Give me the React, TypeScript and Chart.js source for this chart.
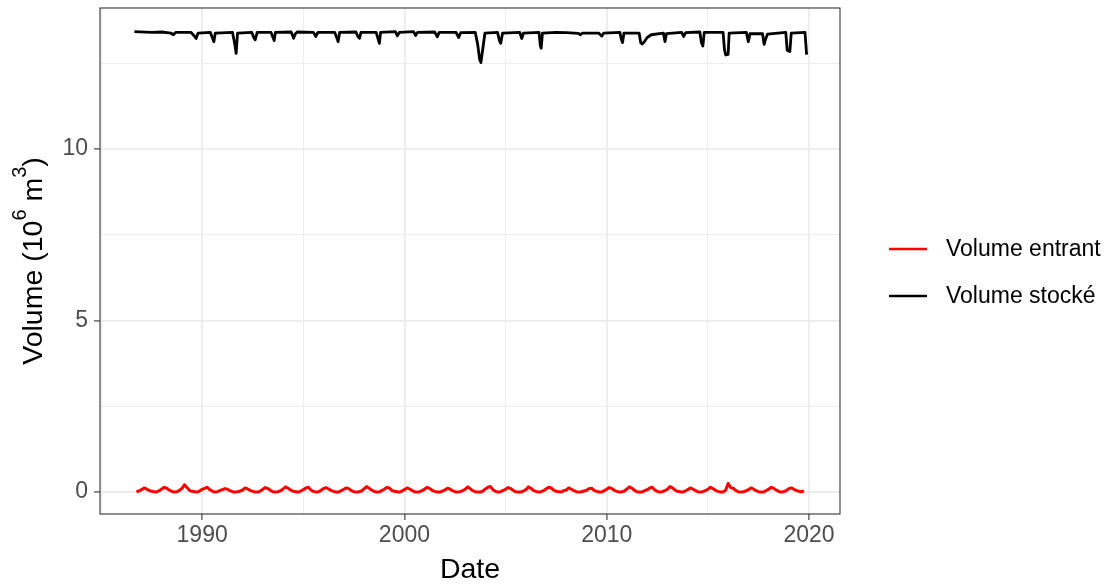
import { useEffect, useRef } from "react";
import { Chart, registerables } from "chart.js";

Chart.register(...registerables);

// ---- Data ----
const seriesLabels = ["Volume entrant", "Volume stocké"];
const seriesColors = ["#FF0000", "#000000"];

// Stored volume (10^6 m3): dates (decimal years) and values
const stockDates = [
  1986.65, 1987.5, 1988.0, 1988.45, 1988.58, 1988.7, 1989.45, 1989.6, 1989.7, 1989.8,
  1990.4, 1990.5, 1990.58, 1990.65, 1991.5, 1991.6, 1991.68, 1991.75, 1992.45, 1992.55,
  1992.62, 1992.72, 1993.4, 1993.5, 1993.56, 1993.62, 1994.4, 1994.52, 1994.6, 1994.7,
  1995.5, 1995.62, 1995.72, 1996.55, 1996.65, 1996.72, 1996.8, 1997.6, 1997.7, 1997.78,
  1997.85, 1998.6, 1998.7, 1998.76, 1998.82, 1999.55, 1999.65, 1999.75, 2000.45, 2000.55,
  2000.65, 2001.5, 2001.62, 2001.72, 2002.55, 2002.68, 2002.78, 2003.5, 2003.62, 2003.72,
  2003.78, 2003.88, 2003.98, 2004.6, 2004.7, 2004.76, 2004.85, 2005.7, 2005.8, 2005.88,
  2006.65, 2006.72, 2006.76, 2006.82, 2007.5, 2008.0, 2008.6, 2008.7, 2008.8, 2009.6,
  2009.75, 2009.85, 2010.65, 2010.72, 2010.78, 2010.85, 2011.6, 2011.68, 2011.75, 2011.85,
  2012.0, 2012.2, 2012.8, 2012.88, 2012.95, 2013.7, 2013.8, 2013.9, 2014.6, 2014.68,
  2014.75, 2014.82, 2015.75, 2015.82, 2015.88, 2016.0, 2016.05, 2016.9, 2017.0, 2017.08,
  2017.7, 2017.78, 2017.85, 2017.95, 2018.85, 2018.92, 2019.05, 2019.12, 2019.8, 2019.88,
];
const stockValues = [
  13.42, 13.4, 13.41, 13.38, 13.33, 13.4, 13.4, 13.3, 13.22, 13.38,
  13.4, 13.25, 13.13, 13.38, 13.4, 13.1, 12.79, 13.38, 13.4, 13.25,
  13.18, 13.4, 13.4, 13.25, 13.16, 13.4, 13.41, 13.23, 13.35, 13.41,
  13.4, 13.28, 13.4, 13.4, 13.25, 13.13, 13.4, 13.41, 13.28, 13.23,
  13.4, 13.4, 13.2, 13.08, 13.4, 13.42, 13.3, 13.4, 13.42, 13.31,
  13.4, 13.41, 13.27, 13.4, 13.4, 13.25, 13.39, 13.4, 13.05, 12.6,
  12.52, 12.95, 13.38, 13.4, 13.15, 13.08, 13.38, 13.4, 13.22, 13.38,
  13.4, 13.0, 12.94, 13.38, 13.4, 13.39, 13.37, 13.33, 13.38, 13.38,
  13.29, 13.38, 13.4, 13.2, 13.1, 13.38, 13.38, 13.1, 13.06, 13.12,
  13.25, 13.33, 13.38, 13.13, 13.36, 13.4, 13.28, 13.39, 13.41, 13.1,
  13.0, 13.4, 13.4, 12.9, 12.74, 12.76, 13.38, 13.4, 13.13, 13.36,
  13.36, 13.05, 13.2, 13.35, 13.4, 12.88, 12.84, 13.38, 13.4, 12.75,
];

// Inflow volume (10^6 m3): regular sampling every 1/8 year from 1986.75
const inflowStart = 1986.75;
const inflowStep = 0.125;
const inflowValues = [
  0.01, 0.03,
  0.07, 0.12, 0.09, 0.05, 0.02, 0.01, 0.0, 0.04,
  0.09, 0.14, 0.11, 0.06, 0.02, 0.0, 0.01, 0.05,
  0.1, 0.21, 0.13, 0.05, 0.02, 0.01, 0.0, 0.03,
  0.08, 0.11, 0.14, 0.07, 0.03, 0.0, 0.01, 0.04,
  0.07, 0.1, 0.08, 0.04, 0.01, 0.0, 0.01, 0.03,
  0.06, 0.12, 0.09, 0.05, 0.02, 0.0, 0.0, 0.03,
  0.08, 0.13, 0.1, 0.05, 0.01, 0.0, 0.01, 0.04,
  0.09, 0.15, 0.11, 0.06, 0.02, 0.01, 0.0, 0.03,
  0.07, 0.12, 0.14, 0.06, 0.02, 0.0, 0.01, 0.05,
  0.1, 0.13, 0.09, 0.05, 0.02, 0.0, 0.0, 0.04,
  0.08, 0.12, 0.1, 0.04, 0.01, 0.0, 0.01, 0.03,
  0.09, 0.16, 0.11, 0.06, 0.02, 0.0, 0.0, 0.04,
  0.08, 0.13, 0.12, 0.05, 0.02, 0.01, 0.0, 0.03,
  0.07, 0.12, 0.09, 0.05, 0.01, 0.0, 0.01, 0.04,
  0.09, 0.14, 0.1, 0.05, 0.02, 0.0, 0.0, 0.03,
  0.06, 0.11, 0.09, 0.04, 0.01, 0.0, 0.01, 0.04,
  0.08, 0.15, 0.1, 0.04, 0.01, 0.0, 0.0, 0.03,
  0.09, 0.14, 0.16, 0.07, 0.02, 0.0, 0.01, 0.05,
  0.08, 0.13, 0.1, 0.05, 0.01, 0.0, 0.0, 0.03,
  0.07, 0.15, 0.11, 0.05, 0.02, 0.0, 0.01, 0.04,
  0.09, 0.14, 0.12, 0.06, 0.02, 0.01, 0.0, 0.04,
  0.06, 0.12, 0.08, 0.04, 0.01, 0.0, 0.01, 0.03,
  0.05, 0.1, 0.11, 0.05, 0.02, 0.0, 0.0, 0.04,
  0.08, 0.13, 0.1, 0.05, 0.02, 0.0, 0.01, 0.03,
  0.09, 0.15, 0.11, 0.05, 0.01, 0.0, 0.0, 0.04,
  0.07, 0.12, 0.14, 0.06, 0.02, 0.0, 0.01, 0.04,
  0.08, 0.16, 0.12, 0.06, 0.02, 0.01, 0.0, 0.03,
  0.07, 0.12, 0.09, 0.05, 0.01, 0.0, 0.01, 0.04,
  0.08, 0.14, 0.1, 0.05, 0.02, 0.0, 0.0, 0.05,
  0.25, 0.13, 0.11, 0.05, 0.01, 0.0, 0.01, 0.03,
  0.07, 0.12, 0.09, 0.04, 0.01, 0.0, 0.0, 0.04,
  0.08, 0.14, 0.11, 0.06, 0.02, 0.0, 0.01, 0.04,
  0.1, 0.12, 0.08, 0.05, 0.02, 0.01, 0.03,
];

// Axis ticks
const xTicks = [1985, 1990, 1995, 2000, 2005, 2010, 2015, 2020];
const xMajor = [1990, 2000, 2010, 2020];
const yTicks = [0, 2.5, 5, 7.5, 10, 12.5];
const yMajor = [0, 5, 10];
const xTitle = "Date";

const FONT = "'Liberation Sans', Arial, Helvetica, sans-serif";

export default function App() {
  const ref = useRef<HTMLCanvasElement | null>(null);

  useEffect(() => {
    document.body.style.margin = "0";
    const canvas = ref.current;
    if (!canvas) return;

    const inflowData = inflowValues.map((v, i) => ({ x: inflowStart + i * inflowStep, y: v }));
    const stockData = stockValues.map((v, i) => ({ x: stockDates[i], y: v }));

    const noPad = (s: any) => {
      s.paddingTop = 0;
      s.paddingBottom = 0;
      s.paddingLeft = 0;
      s.paddingRight = 0;
    };

    const decor = {
      id: "decor",
      afterDraw(chart: any) {
        const ctx = chart.ctx as CanvasRenderingContext2D;
        const { left, right, top, bottom } = chart.chartArea;
        ctx.save();
        // panel border
        ctx.strokeStyle = "#333333";
        ctx.lineWidth = 1.1;
        ctx.strokeRect(left, top, right - left, bottom - top);

        // x title
        ctx.fillStyle = "#000000";
        ctx.font = `28.5px ${FONT}`;
        ctx.textAlign = "center";
        ctx.textBaseline = "alphabetic";
        ctx.fillText(xTitle, (left + right) / 2, 578);

        // y title with superscripts
        const big = `28.5px ${FONT}`;
        const small = `20px ${FONT}`;
        const parts: [string, string, number][] = [
          ["Volume (10", big, 0],
          ["6", small, -16],
          [" m", big, 0],
          ["3", small, -16],
          [")", big, 0],
        ];
        let total = 0;
        const widths = parts.map(([t, f]) => {
          ctx.font = f;
          const w = ctx.measureText(t).width;
          total += w;
          return w;
        });
        ctx.translate(42, (top + bottom) / 2);
        ctx.rotate(-Math.PI / 2);
        ctx.textAlign = "left";
        let cx = -total / 2;
        parts.forEach(([t, f, dy], i) => {
          ctx.font = f;
          ctx.fillText(t, cx, dy);
          cx += widths[i];
        });
        ctx.setTransform(1, 0, 0, 1, 0, 0);

        // legend
        const ys = [249, 296];
        ctx.font = `23px ${FONT}`;
        ctx.textBaseline = "middle";
        ctx.textAlign = "left";
        seriesLabels.forEach((lab, i) => {
          ctx.strokeStyle = seriesColors[i];
          ctx.lineWidth = 2.5;
          ctx.beginPath();
          ctx.moveTo(889, ys[i]);
          ctx.lineTo(927, ys[i]);
          ctx.stroke();
          ctx.fillStyle = "#000000";
          ctx.fillText(lab, 946, ys[i] + 1);
        });
        ctx.restore();
      },
    };

    const chart = new Chart(canvas, {
      type: "line",
      data: {
        datasets: [
          {
            label: seriesLabels[0],
            data: inflowData,
            borderColor: seriesColors[0],
            backgroundColor: seriesColors[0],
            borderWidth: 3,
            pointRadius: 0,
            tension: 0,
          },
          {
            label: seriesLabels[1],
            data: stockData,
            borderColor: seriesColors[1],
            backgroundColor: seriesColors[1],
            borderWidth: 2.8,
            pointRadius: 0,
            tension: 0,
          },
        ],
      },
      options: {
        responsive: false,
        animation: false,
        devicePixelRatio: 1,
        layout: { padding: { top: 8, right: 270, left: 0, bottom: 0 } },
        plugins: { legend: { display: false }, tooltip: { enabled: false } },
        elements: { line: { borderJoinStyle: "round", borderCapStyle: "butt" } },
        scales: {
          x: {
            type: "linear",
            min: 1984.95,
            max: 2021.53,
            afterBuildTicks: (s: any) => {
              s.ticks = xTicks.map((v) => ({ value: v }));
            },
            afterFit: (s: any) => {
              s.height = 72;
              noPad(s);
            },
            ticks: {
              autoSkip: false,
              maxRotation: 0,
              padding: 2,
              color: "#4D4D4D",
              font: { size: 23, family: FONT },
              callback: (v: any) => (xMajor.includes(Number(v)) ? String(v) : ""),
            },
            grid: {
              color: "#EBEBEB",
              lineWidth: (c: any) => (xMajor.includes(c.tick?.value) ? 1.8 : 0.9),
              tickColor: (c: any) => (xMajor.includes(c.tick?.value) ? "#333333" : "rgba(0,0,0,0)"),
              tickLength: 6,
              tickWidth: 1.1,
              offset: false,
            },
            border: { display: false },
          },
          y: {
            type: "linear",
            min: -0.64,
            max: 14.11,
            afterBuildTicks: (s: any) => {
              s.ticks = yTicks.map((v) => ({ value: v }));
            },
            afterFit: (s: any) => {
              s.width = 100;
              noPad(s);
            },
            ticks: {
              autoSkip: false,
              padding: 6,
              color: "#4D4D4D",
              font: { size: 23, family: FONT },
              callback: (v: any) => (yMajor.includes(Number(v)) ? String(v) : ""),
            },
            grid: {
              color: "#EBEBEB",
              lineWidth: (c: any) => (yMajor.includes(c.tick?.value) ? 1.8 : 0.9),
              tickColor: (c: any) => (yMajor.includes(c.tick?.value) ? "#333333" : "rgba(0,0,0,0)"),
              tickLength: 6,
              tickWidth: 1.1,
            },
            border: { display: false },
          },
        },
      },
      plugins: [decor],
    });

    return () => chart.destroy();
  }, []);

  return (
    <div style={{ position: "absolute", left: 0, top: 0, width: 1110, height: 586 }}>
      <canvas ref={ref} width={1110} height={586} />
    </div>
  );
}
